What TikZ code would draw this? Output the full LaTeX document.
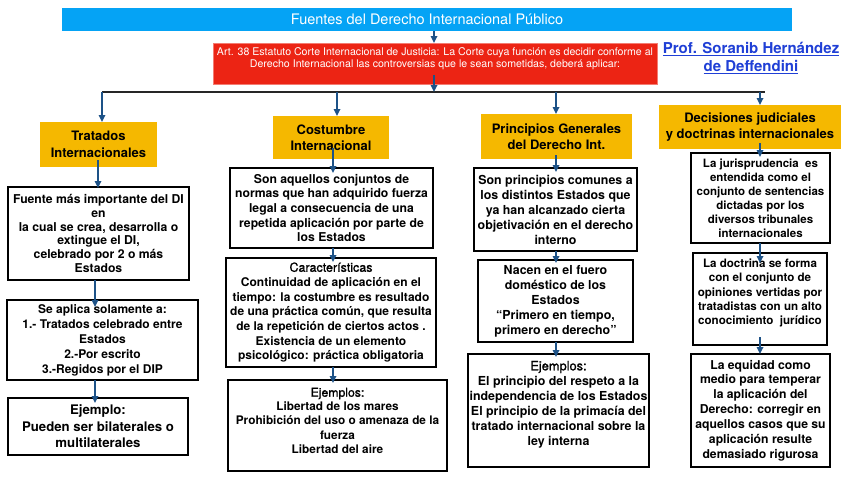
\documentclass[tikz,border=0pt]{standalone}
\usepackage{fontspec}
\setmainfont{TeX Gyre Heros}
\newfontfamily\medfont{TeX Gyre Heros}[FakeBold=1.2]
\usetikzlibrary{arrows.meta}
\definecolor{titleblue}{HTML}{05A3F5}
\definecolor{artred}{HTML}{EC2414}
\definecolor{boxyellow}{HTML}{F5B800}
\definecolor{arrowblue}{HTML}{1D5287}
\definecolor{profblue}{HTML}{1F3FD6}
\newcommand\mkbox[6]{%
  \pgfmathsetmacro\bxcx{(#2+#4)/2}%
  \pgfmathsetmacro\bxcy{(#3+#5)/2}%
  \pgfmathsetmacro\bxww{#4-#2}%
  \pgfmathsetmacro\bxhh{#5-#3}%
  \node[#6, minimum width=\bxww pt, minimum height=\bxhh pt, inner sep=0pt, outer sep=0pt] (#1) at (\bxcx,\bxcy) {};}
\tikzset{
  arr/.style={draw=arrowblue, line width=1.6pt, -{Triangle[width=6.5pt,length=7pt]}},
  ext/.style 2 args={shorten <=-#1pt, shorten >=-#2pt},
  hline/.style={draw=black!85, line width=1.4pt},
  wbox/.style={draw=black, line width=2.4pt, fill=white},
  ybox/.style={fill=boxyellow},
  bt/.style 2 args={align=center, inner sep=0pt, font=\bfseries\fontsize{#1}{#2}\selectfont},
  yt/.style={align=center, inner sep=0pt, font=\bfseries\fontsize{13}{16.5}\selectfont},
}
\begin{document}
\begin{tikzpicture}[x=1pt,y=-1pt]
\fill[white] (0,0) rectangle (848,477);
% title and article
\mkbox{title}{62}{8}{792}{31}{fill=titleblue}
\node[text=white, font=\fontsize{14.5}{16}\selectfont, inner sep=0pt] (titlet) at (title) {Fuentes del Derecho Internacional Público};
\mkbox{red}{213}{43}{657}{84}{fill=artred, draw=artred!60!white, line width=0.6pt}
\node[text=white, align=center, inner sep=0pt, yshift=5pt, font=\fontsize{10.6}{12.5}\selectfont] (redt) at (red) {Art. 38 Estatuto Corte Internacional de Justicia: La Corte cuya función es decidir conforme al\\Derecho Internacional las controversias que le sean sometidas, deberá aplicar:};
\node[text=profblue, align=center, inner sep=0pt, font=\bfseries\fontsize{15}{18.5}\selectfont] (prof) at (751,58) {\underline{Prof. Soranib Hernández}\\\underline{de Deffendini}};
% coordinates
\coordinate (hL) at (102,92);
\coordinate (hR) at (765,92);
\coordinate (hM) at (434,92);
\coordinate (xC) at (337,92);
\coordinate (xP) at (556,92);
\coordinate (xD) at (760,92);
\coordinate (k1) at (98,0);
\coordinate (k2) at (95,0);
\coordinate (k3) at (333,0);
% yellow boxes
\mkbox{trat}{40}{122}{157}{167}{ybox}
\node[yt] (tratt) at (trat) {Tratados\\Internacionales};
\mkbox{cost}{273}{116}{389}{159}{ybox}
\node[yt] (costt) at (cost) {Costumbre\\Internacional};
\mkbox{prin}{481}{114}{632}{159}{ybox}
\node[yt] (print) at (prin) {Principios Generales\\del Derecho Int.};
\mkbox{deci}{659}{105}{841}{149}{ybox}
\node[yt] (decit) at (deci) {Decisiones judiciales\\y doctrinas internacionales};
% column 1
\mkbox{a1}{8}{187}{189}{280}{wbox}
\node[bt={12.2}{13.7}] (a1t) at (a1) {Fuente más importante del DI\\en\\la cual se crea, desarrolla o\\extingue el DI,\\celebrado por 2 o más\\Estados};
\mkbox{a2}{7}{300}{198}{380}{wbox}
\node[bt={12}{15}] (a2t) at (a2) {Se aplica solamente a:\\1.- Tratados celebrado entre\\Estados\\2.-Por escrito\\3.-Regidos por el DIP};
\mkbox{a3}{8}{398}{188}{455}{wbox}
\node[bt={13.2}{16.5}] (a3t) at (a3) {Ejemplo:\\Pueden ser bilaterales o\\multilaterales};
% column 2
\mkbox{c1}{230}{168}{433}{248}{wbox}
\node[bt={12.2}{14.6}] (c1t) at (c1) {Son aquellos conjuntos de\\normas que han adquirido fuerza\\legal a consecuencia de una\\repetida aplicación por parte de\\los Estados};
\mkbox{c2}{226}{258}{436}{367}{wbox}
\node[bt={12}{14.7}] (c2t) at (c2) {{\medfont\mdseries\fontsize{12.5}{14.7}\selectfont Características}\\Continuidad de aplicación en el\\tiempo: la costumbre es resultado\\de una práctica común, que resulta\\de la repetición de ciertos actos .\\Existencia de un elemento\\psicológico: práctica obligatoria};
\mkbox{c3}{228}{380}{447}{471}{wbox}
\node[bt={11.8}{14.1}, yshift=5pt] (c3t) at (c3) {{\medfont\mdseries\fontsize{12.2}{14.1}\selectfont Ejemplos:}\\Libertad de los mares\\Prohibición del uso o amenaza de la\\fuerza\\Libertad del aire};
% column 3
\mkbox{p1}{474}{168}{637}{251}{wbox}
\node[bt={12.4}{15}] (p1t) at (p1) {Son principios comunes a\\los distintos Estados que\\ya han alcanzado cierta\\objetivación en el derecho\\interno};
\mkbox{p2}{478}{260}{633}{342}{wbox}
\node[bt={12.4}{15}] (p2t) at (p2) {Nacen en el fuero\\doméstico de los\\Estados\\“Primero en tiempo,\\primero en derecho”};
\mkbox{p3}{468}{354}{649}{467}{wbox}
\node[bt={12.4}{15}, yshift=6pt] (p3t) at (p3) {{\medfont\mdseries\fontsize{12.8}{15}\selectfont Ejemplos:}\\El principio del respeto a la\\independencia de los Estados\\El principio de la primacía del\\tratado internacional sobre la\\ley interna};
% column 4
\mkbox{d1}{691}{153}{830}{243}{wbox}
\node[bt={11.5}{14}] (d1t) at (d1) {La jurisprudencia~ es\\entendida como el\\conjunto de sentencias\\dictadas por los\\diversos tribunales\\internacionales};
\mkbox{d2}{693}{253}{827}{345}{wbox}
\node[bt={11.6}{14.4}, yshift=6pt] (d2t) at (d2) {La doctrina se forma\\con el conjunto de\\opiniones vertidas por\\tratadistas con un alto\\conocimiento~ jurídico};
\mkbox{d3}{691}{354}{830}{467}{wbox}
\node[bt={12.2}{14.9}] (d3t) at (d3) {La equidad como\\medio para temperar\\la aplicación del\\Derecho: corregir en\\aquellos casos que su\\aplicación resulte\\demasiado rigurosa};
% connectors
\draw[hline] (hL) -- (hR);
\draw[arr] (title.south -| hM) -- (red.north -| hM);
\draw[arr, ext={9}{0}] (red.south -| hM) -- (hM);
\draw[arr] (hL) -- (trat.north -| hL);
\draw[arr] (xC) -- (cost.north -| xC);
\draw[arr] (xP) -- (prin.north -| xP);
\draw[arr] (xD) -- (deci.north -| xD);
\draw[arr, ext={7}{1}] (trat.south -| k1) -- (a1.north -| k1);
\draw[arr, ext={0}{7}] (a1.south -| k2) -- (a2.north -| k2);
\draw[arr, ext={0}{5}] (a2.south -| k2) -- (a3.north -| k2);
\draw[arr, ext={11}{5}] (cost.south -| k3) -- (c1.north -| k3);
\draw[arr, ext={0}{4}] (c1.south -| k3) -- (c2.north -| k3);
\draw[arr, ext={0}{3}] (c2.south -| k3) -- (c3.north -| k3);
\draw[arr, ext={4}{4}] (prin.south -| xP) -- (p1.north -| xP);
\draw[arr, ext={0}{3}] (p1.south -| xP) -- (p2.north -| xP);
\draw[arr, ext={0}{3}] (p2.south -| xP) -- (p3.north -| xP);
\draw[arr, ext={6}{4}] (deci.south -| xD) -- (d1.north -| xD);
\draw[arr, ext={0}{10}] (d1.south -| xD) -- (d2.north -| xD);
\draw[arr, ext={8}{0}] (d2.south -| xD) -- (d3.north -| xD);
\end{tikzpicture}
\end{document}
